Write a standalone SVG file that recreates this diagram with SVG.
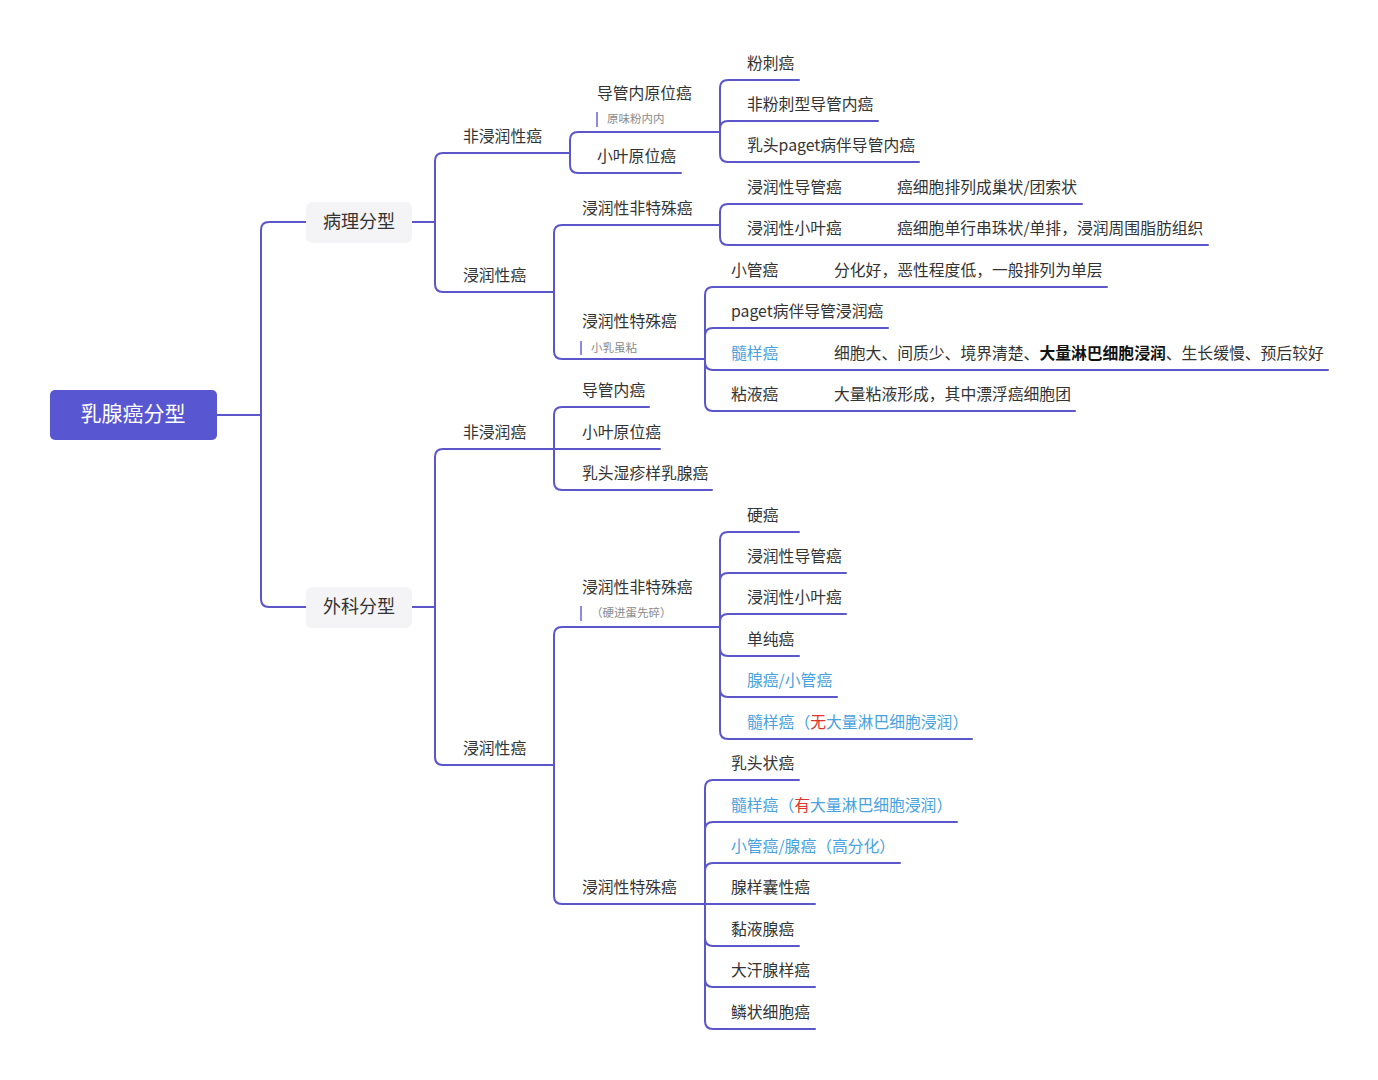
<svg xmlns="http://www.w3.org/2000/svg" width="1378" height="1080" viewBox="0 0 1378 1080">
<style>
text{font-family:"Noto Sans CJK SC","Noto Sans",sans-serif;font-size:15.8px;fill:#333333}
.c{fill:none;stroke:#5b56c9;stroke-width:2;stroke-linecap:round}
.root{fill:#5856d1}
.rt{fill:#ffffff;font-size:21px}
.box{fill:#f4f4f6}
.bt{font-size:18px}
.blue{fill:#48a2e0}
.red{fill:#e0352b}
.note{font-size:11.5px;fill:#8a8a8a}
.bar{stroke:#8e89e6;stroke-width:2}
.b{font-weight:bold;fill:#111}
</style>
<rect width="1378" height="1080" fill="#ffffff"/>
<g id="connectors">
<path class="c" d="M217,415 H261"/>
<path class="c" d="M261,415 V230 Q261,222 269,222 H306"/>
<path class="c" d="M261,415 V599 Q261,607 269,607 H306"/>
<path class="c" d="M412,222 H435"/>
<path class="c" d="M435,222 V161 Q435,153 443,153 H570"/>
<path class="c" d="M435,222 V284 Q435,292 443,292 H554"/>
<path class="c" d="M570,153 V140 Q570,132 578,132 H720"/>
<path class="c" d="M570,153 V165 Q570,173 578,173 H681"/>
<path class="c" d="M720,132 V88 Q720,80 728,80 H799"/>
<path class="c" d="M720,132 V129 Q720,121 728,121 H878"/>
<path class="c" d="M720,132 V154 Q720,162 728,162 H919"/>
<path class="c" d="M554,292 V233 Q554,225 562,225 H720"/>
<path class="c" d="M554,292 V351 Q554,359 562,359 H705"/>
<path class="c" d="M720,225 V212 Q720,204 728,204 H1082"/>
<path class="c" d="M720,225 V237 Q720,245 728,245 H1208"/>
<path class="c" d="M705,359 V295 Q705,287 713,287 H1107"/>
<path class="c" d="M705,359 V336 Q705,328 713,328 H888"/>
<path class="c" d="M705,359 V362 Q705,370 713,370 H1328"/>
<path class="c" d="M705,359 V403 Q705,411 713,411 H1075"/>
<path class="c" d="M412,607 H435"/>
<path class="c" d="M435,607 V457 Q435,449 443,449 H554"/>
<path class="c" d="M435,607 V757 Q435,765 443,765 H554"/>
<path class="c" d="M554,449 V415 Q554,407 562,407 H649"/>
<path class="c" d="M554,449 H660"/>
<path class="c" d="M554,449 V482 Q554,490 562,490 H712"/>
<path class="c" d="M554,765 V635 Q554,627 562,627 H720"/>
<path class="c" d="M554,765 V896 Q554,904 562,904 H705"/>
<path class="c" d="M720,627 V540 Q720,532 728,532 H799"/>
<path class="c" d="M720,627 V581 Q720,573 728,573 H846"/>
<path class="c" d="M720,627 V622 Q720,614 728,614 H846"/>
<path class="c" d="M720,627 V648 Q720,656 728,656 H799"/>
<path class="c" d="M720,627 V689 Q720,697 728,697 H837"/>
<path class="c" d="M720,627 V731 Q720,739 728,739 H972"/>
<path class="c" d="M705,904 V788 Q705,780 713,780 H799"/>
<path class="c" d="M705,904 V830 Q705,822 713,822 H957"/>
<path class="c" d="M705,904 V871 Q705,863 713,863 H900"/>
<path class="c" d="M705,904 H815"/>
<path class="c" d="M705,904 V938 Q705,946 713,946 H799"/>
<path class="c" d="M705,904 V979 Q705,987 713,987 H815"/>
<path class="c" d="M705,904 V1021 Q705,1029 713,1029 H815"/>
</g>
<g id="root"><rect class="root" x="50" y="390" width="167" height="50" rx="5"/><text class="rt" x="133" y="421" text-anchor="middle">乳腺癌分型</text></g>
<g id="n-pathology"><rect class="box" x="306" y="202" width="106" height="41" rx="6"/><text class="bt" x="359" y="228" text-anchor="middle">病理分型</text></g>
<g id="n-surgery"><rect class="box" x="306" y="587" width="106" height="41" rx="6"/><text class="bt" x="359" y="613" text-anchor="middle">外科分型</text></g>
<g id="n-p-noninv"><text x="463" y="142">非浸润性癌</text></g>
<g id="n-p-inv"><text x="463" y="281">浸润性癌</text></g>
<g id="n-dcis"><text x="597" y="99">导管内原位癌</text><line class="bar" x1="597" y1="112" x2="597" y2="127"/><text class="note" x="607" y="123">原味粉内内</text></g>
<g id="n-lcis"><text x="597" y="162">小叶原位癌</text></g>
<g id="n-comedo"><text x="747" y="69">粉刺癌</text></g>
<g id="n-noncomedo"><text x="747" y="110">非粉刺型导管内癌</text></g>
<g id="n-paget-dcis"><text x="747" y="151">乳头paget病伴导管内癌</text></g>
<g id="n-p-nst"><text x="582" y="214">浸润性非特殊癌</text></g>
<g id="n-idc"><text x="747" y="193">浸润性导管癌</text><text x="897" y="193">癌细胞排列成巢状/团索状</text></g>
<g id="n-ilc"><text x="747" y="234">浸润性小叶癌</text><text x="897" y="234">癌细胞单行串珠状/单排，浸润周围脂肪组织</text></g>
<g id="n-p-special"><text x="582" y="327">浸润性特殊癌</text><line class="bar" x1="581" y1="341" x2="581" y2="355"/><text class="note" x="591" y="352">小乳虽粘</text></g>
<g id="n-tubular"><text x="731" y="276">小管癌</text><text x="834" y="276">分化好，恶性程度低，一般排列为单层</text></g>
<g id="n-paget-inv"><text x="731" y="317">paget病伴导管浸润癌</text></g>
<g id="n-medullary"><text class="blue" x="731" y="359">髓样癌</text><text x="834" y="359">细胞大、间质少、境界清楚、<tspan class="b">大量淋巴细胞浸润</tspan>、生长缓慢、预后较好</text></g>
<g id="n-mucinous"><text x="731" y="400">粘液癌</text><text x="834" y="400">大量粘液形成，其中漂浮癌细胞团</text></g>
<g id="n-s-noninv"><text x="463" y="438">非浸润癌</text></g>
<g id="n-s-inv"><text x="463" y="754">浸润性癌</text></g>
<g id="n-s-intraduct"><text x="582" y="396">导管内癌</text></g>
<g id="n-s-lcis"><text x="582" y="438">小叶原位癌</text></g>
<g id="n-s-eczema"><text x="582" y="479">乳头湿疹样乳腺癌</text></g>
<g id="n-s-nst"><text x="582" y="593">浸润性非特殊癌</text><line class="bar" x1="581" y1="606" x2="581" y2="621"/><text class="note" x="591" y="617">（硬进蛋先碎）</text></g>
<g id="n-scirrhous"><text x="747" y="521">硬癌</text></g>
<g id="n-s-idc"><text x="747" y="562">浸润性导管癌</text></g>
<g id="n-s-ilc"><text x="747" y="603">浸润性小叶癌</text></g>
<g id="n-simple"><text x="747" y="645">单纯癌</text></g>
<g id="n-adeno"><text class="blue" x="747" y="686">腺癌/小管癌</text></g>
<g id="n-s-medullary1"><text class="blue" x="747" y="728">髓样癌（<tspan class="red">无</tspan>大量淋巴细胞浸润）</text></g>
<g id="n-s-special"><text x="582" y="893">浸润性特殊癌</text></g>
<g id="n-papillary"><text x="731" y="769">乳头状癌</text></g>
<g id="n-s-medullary2"><text class="blue" x="731" y="811">髓样癌（<tspan class="red">有</tspan>大量淋巴细胞浸润）</text></g>
<g id="n-s-tubular"><text class="blue" x="731" y="852">小管癌/腺癌（高分化）</text></g>
<g id="n-adenoid"><text x="731" y="893">腺样囊性癌</text></g>
<g id="n-mucoid"><text x="731" y="935">黏液腺癌</text></g>
<g id="n-apocrine"><text x="731" y="976">大汗腺样癌</text></g>
<g id="n-squamous"><text x="731" y="1018">鳞状细胞癌</text></g>
</svg>
